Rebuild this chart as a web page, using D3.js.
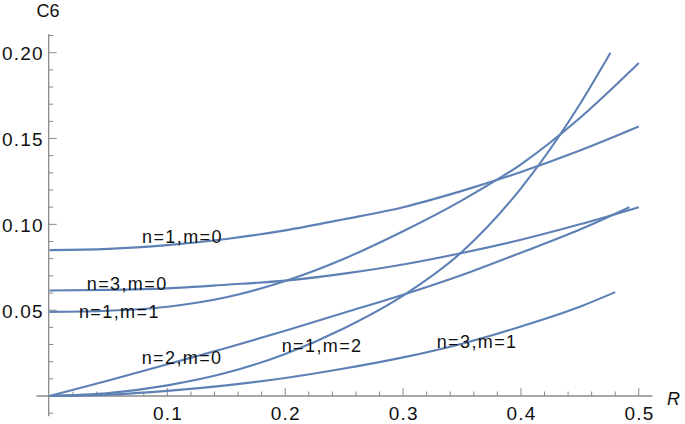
<!DOCTYPE html>
<html>
<head>
<meta charset="utf-8">
<script src="https://cdn.jsdelivr.net/npm/d3@7"></script>
<style>
  body { margin: 0; background: #fff; }
  svg text { font-family: "Liberation Sans", Arial, sans-serif; fill: #111; }
</style>
</head>
<body>
<div id="chart"></div>
<script>
/**
 * DATA
 * */
const rGrid = [0, 0.05, 0.1, 0.15, 0.2, 0.25, 0.3, 0.35, 0.4, 0.45, 0.5];
const rN2m0 = [0, 0.05, 0.1, 0.15, 0.2, 0.25, 0.3, 0.35, 0.4, 0.45, 0.492];
const rN1m2 = [0, 0.05, 0.1, 0.15, 0.2, 0.25, 0.3, 0.35, 0.4, 0.45, 0.476];
const rN3m1 = [0, 0.05, 0.1, 0.15, 0.2, 0.25, 0.3, 0.35, 0.4, 0.45, 0.48];

const c6N1m0 = [0.085, 0.0857, 0.0879, 0.0915, 0.0965, 0.103, 0.110, 0.1195, 0.1305, 0.143, 0.157];
const c6N3m0 = [0.0615, 0.0618, 0.0627, 0.0648, 0.0672, 0.0713, 0.0766, 0.0833, 0.091, 0.100, 0.110];
const c6N1m1 = [0.049, 0.0497, 0.052, 0.0575, 0.067, 0.080, 0.096, 0.114, 0.135, 0.162, 0.194];
const c6N2m0 = [0, 0.009, 0.0185, 0.028, 0.038, 0.0485, 0.059, 0.0705, 0.0835, 0.097, 0.110];
const c6N1m2 = [0, 0.0017, 0.0062, 0.0135, 0.0245, 0.0395, 0.0585, 0.084, 0.121, 0.170, 0.200];
const c6N3m1 = [0, 0.0008, 0.003, 0.0062, 0.0105, 0.016, 0.0225, 0.0305, 0.0405, 0.052, 0.0605];

const curveLabels = ["n=1,m=0", "n=3,m=0", "n=1,m=1", "n=2,m=0", "n=1,m=2", "n=3,m=1"];

const xTicks = [0.1, 0.2, 0.3, 0.4, 0.5];
const yTicks = [0.05, 0.10, 0.15, 0.20];

const series = [
  { r: rGrid, c: c6N1m0 },
  { r: rGrid, c: c6N3m0 },
  { r: rGrid, c: c6N1m1 },
  { r: rN2m0, c: c6N2m0 },
  { r: rN1m2, c: c6N1m2 },
  { r: rN3m1, c: c6N3m1 }
];

// where each label sits (data coords of left/baseline)
const labelPos = [
  [0.0785, 0.0894], [0.0316, 0.0620], [0.0250, 0.0454],
  [0.0782, 0.0186], [0.197, 0.0256], [0.3285, 0.0280]
];

/**
 * LAYOUT
 * */
const width = 685, height = 424;
const x = d3.scaleLinear().domain([0, 0.5]).range([49.5, 638.8]);
const y = d3.scaleLinear().domain([0, 0.2]).range([396, 52.7]);
const axisColor = "#8a8a8a";
const lineColor = "#5e81b5";

const svg = d3.select("#chart")
  .append("svg")
  .attr("width", width)
  .attr("height", height);

// axis lines
svg.append("line")
  .attr("x1", x(-0.011)).attr("x2", x(0.5115))
  .attr("y1", y(0)).attr("y2", y(0))
  .attr("stroke", axisColor).attr("stroke-width", 1.3);
svg.append("line")
  .attr("x1", 48.7).attr("x2", 48.7)
  .attr("y1", y(-0.0118)).attr("y2", y(0.2108))
  .attr("stroke", axisColor).attr("stroke-width", 1.3);

// x ticks: minor every 0.02, major every 0.1
const xMinor = d3.range(1, 26).map(i => i * 0.02).filter(v => Math.abs(v * 10 - Math.round(v * 10)) > 1e-6);
svg.selectAll(".xminor")
  .data(xMinor)
  .join("line")
  .attr("class", "xminor")
  .attr("x1", d => x(d)).attr("x2", d => x(d))
  .attr("y1", y(0)).attr("y2", y(0) - 4.5)
  .attr("stroke", axisColor).attr("stroke-width", 1);
svg.selectAll(".xmajor")
  .data(xTicks)
  .join("line")
  .attr("class", "xmajor")
  .attr("x1", d => x(d)).attr("x2", d => x(d))
  .attr("y1", y(0)).attr("y2", y(0) - 8)
  .attr("stroke", axisColor).attr("stroke-width", 1);
svg.selectAll(".xlab")
  .data(xTicks)
  .join("text")
  .attr("class", "xlab")
  .attr("x", d => x(d) + 0.6)
  .attr("y", 420)
  .attr("text-anchor", "middle")
  .style("font-size", "19px")
  .style("letter-spacing", "1.2px")
  .text(d => d3.format(".1f")(d));

// y ticks: minor every 0.01, major every 0.05
const yMinor = d3.range(-1, 22).map(i => i * 0.01).filter(v => Math.abs(v * 20 - Math.round(v * 20)) > 1e-6);
svg.selectAll(".yminor")
  .data(yMinor)
  .join("line")
  .attr("class", "yminor")
  .attr("x1", 48.7).attr("x2", 48.7 + 4.5)
  .attr("y1", d => y(d)).attr("y2", d => y(d))
  .attr("stroke", axisColor).attr("stroke-width", 1);
svg.selectAll(".ymajor")
  .data(yTicks)
  .join("line")
  .attr("class", "ymajor")
  .attr("x1", 48.7).attr("x2", 48.7 + 8)
  .attr("y1", d => y(d)).attr("y2", d => y(d))
  .attr("stroke", axisColor).attr("stroke-width", 1);
svg.selectAll(".ylab")
  .data(yTicks)
  .join("text")
  .attr("class", "ylab")
  .attr("x", 43.8)
  .attr("y", d => y(d) + 7.5)
  .attr("text-anchor", "end")
  .style("font-size", "19px")
  .style("letter-spacing", "1.2px")
  .text(d => d3.format(".2f")(d));

// axis titles
svg.append("text")
  .attr("x", 48).attr("y", 16.5)
  .attr("text-anchor", "middle")
  .style("font-size", "18px")
  .text("C6");
svg.append("text")
  .attr("x", 667).attr("y", 405)
  .style("font-size", "18px")
  .style("font-style", "italic")
  .text("R");

// curves
const line = d3.line()
  .x(d => x(d[0]))
  .y(d => y(d[1]))
  .curve(d3.curveMonotoneX);

svg.selectAll(".curve")
  .data(series)
  .join("path")
  .attr("class", "curve")
  .attr("d", s => line(s.r.map((r, i) => [r, s.c[i]])))
  .attr("fill", "none")
  .attr("stroke", lineColor)
  .attr("stroke-width", 2.1);

// curve labels
svg.selectAll(".clab")
  .data(curveLabels)
  .join("text")
  .attr("class", "clab")
  .attr("x", (d, i) => x(labelPos[i][0]))
  .attr("y", (d, i) => y(labelPos[i][1]))
  .style("font-size", "18px")
  .style("letter-spacing", "1.4px")
  .text(d => d);
</script>
</body>
</html>
